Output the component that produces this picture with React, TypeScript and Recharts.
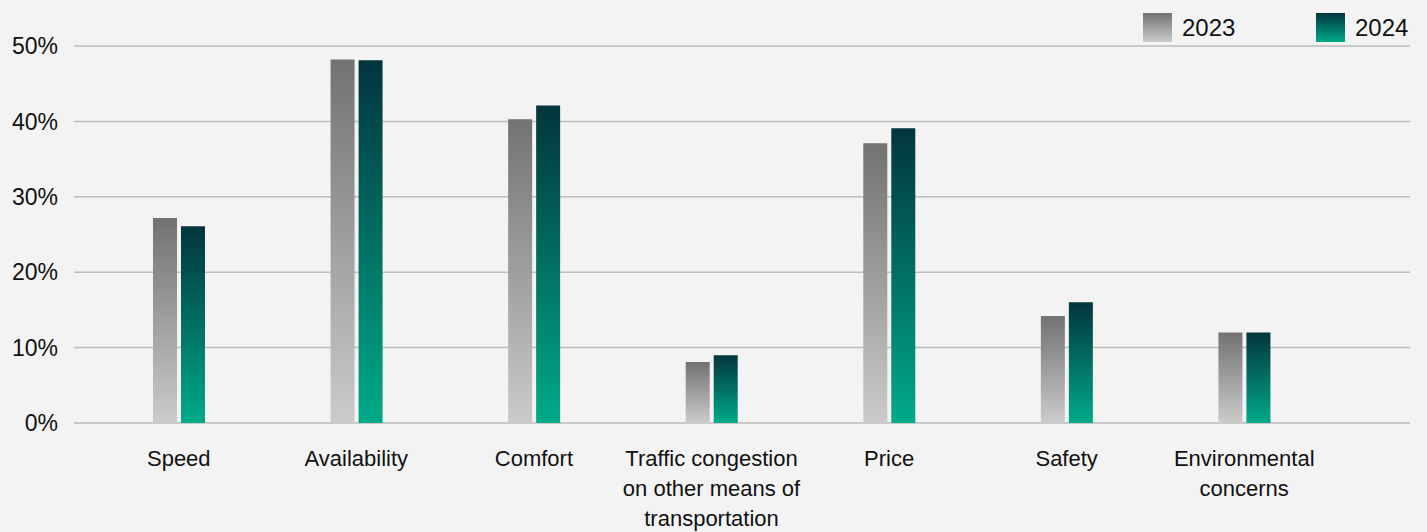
import React from 'react'
import { BarChart, Bar, XAxis, YAxis, CartesianGrid } from 'recharts'

const categories = [
  'Speed',
  'Availability',
  'Comfort',
  'Traffic congestion\non other means of\ntransportation',
  'Price',
  'Safety',
  'Environmental\nconcerns',
]
const values2023 = [27.2, 48.2, 40.3, 8.1, 37.1, 14.2, 12]
const values2024 = [26.1, 48.1, 42.1, 9, 39.1, 16, 12]
const yTicks = [0, 10, 20, 30, 40, 50]
const seriesNames = ['2023', '2024']

const data = categories.map((name, i) => ({ name, y2023: values2023[i], y2024: values2024[i] }))

const FONT = '"Liberation Sans", Arial, sans-serif'

function CategoryTick(props: any) {
  const { x, y, payload } = props
  const lines = String(payload.value).split('\n')
  return (
    <text x={x} y={y + 35} textAnchor="middle" fill="#111" fontSize={22} fontFamily={FONT}>
      {lines.map((l, i) => (
        <tspan key={i} x={x} dy={i === 0 ? 0 : 30}>{l}</tspan>
      ))}
    </text>
  )
}

export default function App() {
  return (
    <div style={{ width: 1427, height: 532, background: '#f3f3f3', position: 'relative' }}>
      <style>{`body { margin: 0; background: #f3f3f3; }`}</style>
      <svg width={0} height={0} style={{ position: 'absolute' }}>
        <defs>
          <linearGradient id="g2023" x1="0" y1="0" x2="0" y2="1">
            <stop offset="0%" stopColor="#727272" />
            <stop offset="100%" stopColor="#cbcbcb" />
          </linearGradient>
          <linearGradient id="g2024" x1="0" y1="0" x2="0" y2="1">
            <stop offset="0%" stopColor="#02353d" />
            <stop offset="100%" stopColor="#00aa88" />
          </linearGradient>
        </defs>
      </svg>

      {/* legend, top right */}
      <div style={{ position: 'absolute', top: 13, left: 1143, display: 'flex', zIndex: 2 }}>
        {seriesNames.map((label) => (
          <div key={label} style={{ display: 'flex', alignItems: 'center', width: 173 }}>
            <svg width={29} height={29} style={{ marginRight: 10 }}>
              <rect width={29} height={29} fill={`url(#g${label})`} />
            </svg>
            <span style={{ fontSize: 24, lineHeight: '29px', color: '#111', fontFamily: FONT }}>{label}</span>
          </div>
        ))}
      </div>

      <BarChart
        width={1427}
        height={532}
        data={data}
        margin={{ top: 46, right: 17, bottom: 0, left: 0 }}
        barSize={24}
        barGap={4}
      >
        <CartesianGrid vertical={false} stroke="#bdbdbd" strokeWidth={1.5} />
        <XAxis
          dataKey="name"
          height={109}
          axisLine={false}
          tickLine={false}
          interval={0}
          padding={{ left: 16, right: 77 }}
          tick={<CategoryTick />}
        />
        <YAxis
          width={74}
          domain={[0, 50]}
          ticks={yTicks}
          axisLine={false}
          tickLine={false}
          tickSize={0}
          tickMargin={16}
          tickFormatter={(v) => `${v}%`}
          tick={{ fill: '#111', fontSize: 23, fontFamily: FONT }}
        />
        <Bar dataKey="y2023" fill="url(#g2023)" isAnimationActive={false} />
        <Bar dataKey="y2024" fill="url(#g2024)" isAnimationActive={false} />
      </BarChart>
    </div>
  )
}
